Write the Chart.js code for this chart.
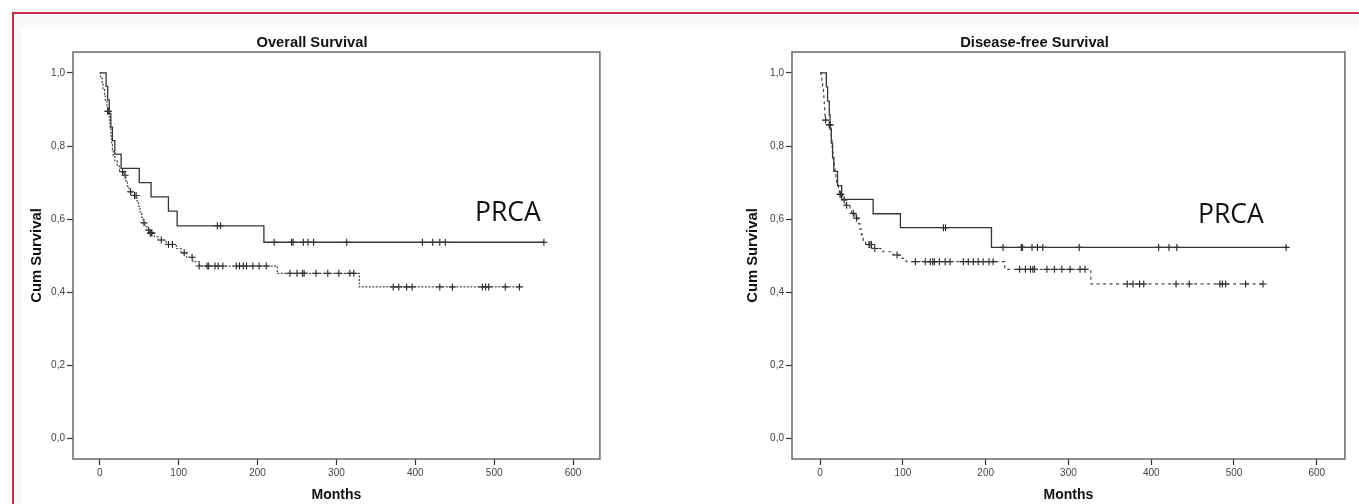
<!DOCTYPE html>
<html>
<head>
<meta charset="utf-8">
<title>Survival curves</title>
<script src="https://cdn.jsdelivr.net/npm/chart.js@4.4.0/dist/chart.umd.min.js"></script>
<style>
    html, body { margin: 0; padding: 0; background: #fff; }
    body { width: 1359px; height: 504px; overflow: hidden; position: relative; }
    #frame {
        position: absolute; left: 12px; top: 12px; width: 1400px; height: 600px;
        border-left: 2px solid #c42a4a; border-top: 2px solid #c42a4a; background: #faf8f9;
    }
    #sheet { position: absolute; left: 21px; top: 28px; width: 1338px; height: 476px; background: #fff; }
    canvas { position: absolute; }
    .tag { position: absolute; font-family: "Open Sans", sans-serif; font-size: 26.5px; line-height: 1; color: #111; }
</style>
</head>
<body>
<div id="frame"></div>
<div id="sheet"></div>
<canvas id="osChart" width="584" height="476" style="left:21px; top:28px;"></canvas>
<canvas id="dfsChart" width="629" height="476" style="left:721px; top:28px;"></canvas>
<div class="tag" style="left:475px; top:198px;">PRCA</div>
<div class="tag" style="left:1198px; top:200px;">PRCA</div>
<script>
// axis ticks
const monthTicks = [0, 100, 200, 300, 400, 500, 600];
const survTicks = [0, 0.2, 0.4, 0.6, 0.8, 1.0];

// Overall survival - PRCA group (solid)
const osPrcaTime = [0, 8, 10, 12, 14, 16, 19, 27, 50, 65, 87, 98, 208, 563];
const osPrcaSurv = [1.0, 0.963, 0.926, 0.889, 0.852, 0.815, 0.778, 0.739, 0.700, 0.661, 0.622, 0.582, 0.537, 0.537];
const osPrcaCensor = [149, 153, 221, 243, 245, 258, 264, 271, 313, 409, 422, 431, 438, 563];

// Overall survival - other group (dashed)
const osOtherTime = [0, 1, 3, 4, 6, 7, 9, 10, 12, 12.5, 13, 14, 14.5, 15, 16, 17, 19, 22, 25, 30, 33, 35, 37, 41, 47, 49, 51, 53, 55, 57, 60, 63, 69, 74, 84, 97, 103, 110, 118, 126, 225, 329, 532];
const osOtherSurv = [1.0, 0.985, 0.97, 0.955, 0.94, 0.925, 0.91, 0.895, 0.88, 0.865, 0.85, 0.835, 0.82, 0.805, 0.79, 0.775, 0.76, 0.745, 0.73, 0.72, 0.705, 0.69, 0.675, 0.665, 0.65, 0.635, 0.62, 0.605, 0.59, 0.58, 0.57, 0.562, 0.552, 0.543, 0.531, 0.52, 0.508, 0.496, 0.484, 0.472, 0.452, 0.415, 0.415];
const osOtherCensor = [10, 11, 29, 32, 39, 44, 46, 56, 62, 64, 65, 66, 78, 87, 92, 107, 117, 126, 136, 138, 146, 150, 156, 173, 177, 182, 186, 194, 202, 211, 241, 250, 257, 259, 274, 289, 303, 317, 322, 372, 379, 389, 396, 431, 447, 485, 489, 493, 514, 532];

// Disease-free survival - PRCA group (solid)
const dfsPrcaTime = [0, 7.5, 9, 11, 12, 13.5, 15, 16.5, 21, 26, 64, 97, 207, 563];
const dfsPrcaSurv = [1.0, 0.962, 0.923, 0.885, 0.846, 0.808, 0.769, 0.731, 0.692, 0.654, 0.615, 0.577, 0.523, 0.523];
const dfsPrcaCensor = [149, 151.5, 221, 243, 244.5, 256, 262.5, 269, 313, 409, 421.5, 431, 563];

// Disease-free survival - other group (dashed)
const dfsOtherTime = [0, 1, 2, 3, 4, 4.5, 5, 5.5, 5.8, 6, 9, 13, 13.5, 14, 14.5, 15, 15.5, 16, 17, 18, 19, 20, 22, 23, 27, 31, 36, 38, 42, 46, 48, 50, 52, 55, 64, 76, 88, 99, 104, 223, 327, 535];
const dfsOtherSurv = [1.0, 0.985, 0.97, 0.955, 0.94, 0.925, 0.91, 0.895, 0.885, 0.871, 0.858, 0.843, 0.828, 0.813, 0.798, 0.783, 0.768, 0.753, 0.739, 0.725, 0.711, 0.697, 0.682, 0.668, 0.653, 0.638, 0.626, 0.616, 0.603, 0.588, 0.573, 0.558, 0.543, 0.531, 0.52, 0.511, 0.502, 0.493, 0.484, 0.463, 0.423, 0.423];
const dfsOtherCensor = [6.5, 11, 12, 24, 25, 29, 32, 40, 44, 59, 60, 62, 66, 93, 115, 127, 133, 136, 138, 144, 151, 157, 173, 179, 185, 191, 197, 204, 209, 241, 248, 254, 257, 259, 274, 283, 292, 302, 314, 320, 371, 378, 386, 391, 430, 446, 483, 486, 490, 514, 535];

Chart.defaults.font.family = '"Liberation Sans", Arial, sans-serif';
Chart.defaults.color = '#444';

// survival level of a curve at a given month (for placing censor marks)
function levelAt(times, surv, t) {
    let y = surv[0];
    for (let i = 0; i < times.length; i++) {
        if (times[i] <= t) y = surv[i];
    }
    return y;
}

function curve(times, surv, dash) {
    return {
        data: times.map((t, i) => ({ x: t, y: surv[i] })),
        showLine: true,
        stepped: true,
        borderColor: dash ? '#474747' : '#363636',
        borderWidth: dash ? 1.2 : 1.3,
        borderDash: dash || [],
        pointRadius: 0
    };
}

function censors(times, surv, marks) {
    return {
        data: marks.map(t => ({ x: t, y: levelAt(times, surv, t) })),
        showLine: false,
        pointStyle: 'cross',
        pointRadius: 3.5,
        borderColor: '#222',
        borderWidth: 1.1
    };
}

const plotFrame = {
    id: 'plotFrame',
    afterDraw(chart) {
        const a = chart.chartArea;
        const ctx = chart.ctx;
        ctx.save();
        ctx.strokeStyle = '#686868';
        ctx.lineWidth = 1.5;
        ctx.strokeRect(a.left, a.top, a.right - a.left, a.bottom - a.top);
        ctx.restore();
    }
};

function makeChart(id, title, datasets, axisWidth, yTitlePad) {
    const ctx = document.getElementById(id).getContext('2d');
    return new Chart(ctx, {
        type: 'scatter',
        data: { datasets: datasets },
        plugins: [plotFrame],
        options: {
            responsive: false,
            animation: false,
            layout: { padding: { right: 2 } },
            plugins: {
                legend: { display: false },
                tooltip: { enabled: false },
                title: {
                    display: true,
                    text: title,
                    color: '#111',
                    font: { size: 14.7, weight: 'bold' },
                    padding: { top: 5.7, bottom: 0.7 }
                }
            },
            scales: {
                x: {
                    type: 'linear',
                    min: -34,
                    max: 634,
                    afterBuildTicks: s => { s.ticks = monthTicks.map(v => ({ value: v })); },
                    afterFit: s => { s.height = 45; },
                    ticks: { font: { size: 10 }, padding: 2, maxRotation: 0, callback: v => String(v) },
                    grid: { drawOnChartArea: false, tickLength: 6, tickColor: '#333', tickWidth: 1.2 },
                    border: { display: false },
                    title: { display: true, text: 'Months', color: '#111', font: { size: 14, weight: 'bold' }, padding: { top: 0, bottom: 0 } }
                },
                y: {
                    type: 'linear',
                    min: -0.0555,
                    max: 1.057,
                    afterBuildTicks: s => { s.ticks = survTicks.map(v => ({ value: v })); },
                    afterFit: s => { s.width = axisWidth; },
                    ticks: { font: { size: 10 }, padding: 2, callback: v => v.toFixed(1).replace('.', ',') },
                    grid: { drawOnChartArea: false, tickLength: 6, tickColor: '#333', tickWidth: 1.2 },
                    border: { display: false },
                    title: { display: true, text: 'Cum Survival', color: '#111', font: { size: 14.8, weight: 'bold' }, padding: { top: yTitlePad, bottom: 0 } }
                }
            }
        }
    });
}

makeChart('osChart', 'Overall Survival', [
    curve(osPrcaTime, osPrcaSurv, null),
    curve(osOtherTime, osOtherSurv, [2, 1.5]),
    censors(osPrcaTime, osPrcaSurv, osPrcaCensor),
    censors(osOtherTime, osOtherSurv, osOtherCensor)
], 52, 7.1);

makeChart('dfsChart', 'Disease-free Survival', [
    curve(dfsPrcaTime, dfsPrcaSurv, null),
    curve(dfsOtherTime, dfsOtherSurv, [3, 3.5]),
    censors(dfsPrcaTime, dfsPrcaSurv, dfsPrcaCensor),
    censors(dfsOtherTime, dfsOtherSurv, dfsOtherCensor)
], 71, 23.1);
</script>
</body>
</html>
